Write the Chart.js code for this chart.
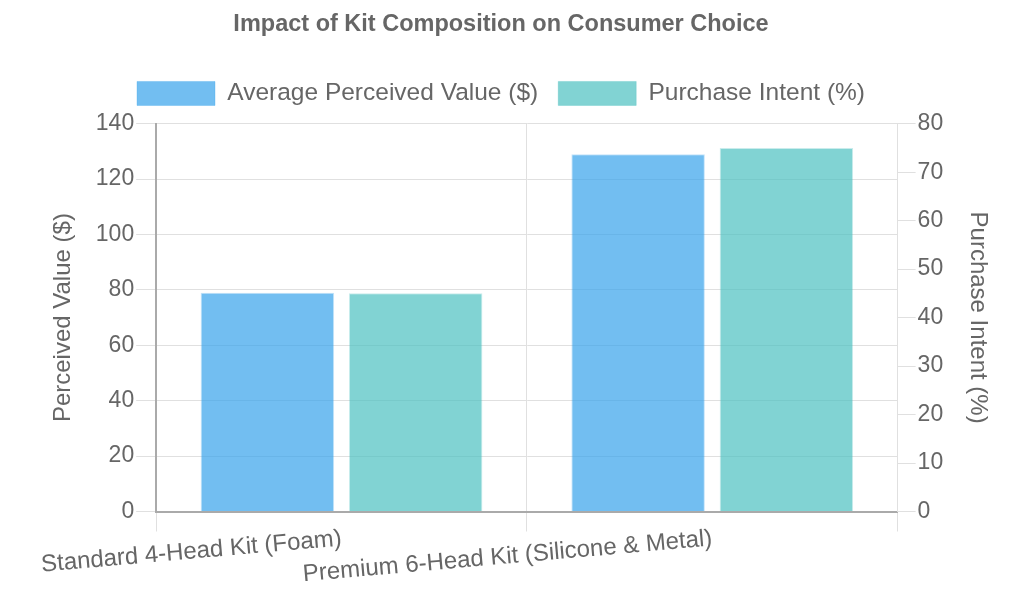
<!DOCTYPE html>
<html>
<head>
<meta charset="utf-8">
<script src="https://cdn.jsdelivr.net/npm/chart.js@4"></script>
<style>
  html, body { margin: 0; padding: 0; background: white; }
  #wrap { width: 1027px; height: 601px; }
</style>
</head>
<body>
<div id="wrap"><canvas id="chart-1"></canvas></div>
<script>
const categories = ["Standard 4-Head Kit (Foam)", "Premium 6-Head Kit (Silicone & Metal)"];
const perceivedValue = [79, 129];
const purchaseIntent = [45, 75];

Chart.defaults.font.family = "'Liberation Sans', Arial, sans-serif";
Chart.defaults.color = "#666";

const ctx1 = document.getElementById("chart-1");

var dataFirst = {
  label: "Average Perceived Value ($)",
  data: perceivedValue,
  backgroundColor: "rgba(54, 162, 235, 0.7)",
  borderColor: "rgba(54, 162, 235, 0.3)",
  borderWidth: 1,
  yAxisID: "y",
};

var dataSecond = {
  label: "Purchase Intent (%)",
  data: purchaseIntent,
  backgroundColor: "rgba(75, 192, 192, 0.7)",
  borderColor: "rgba(75, 192, 192, 0.3)",
  borderWidth: 1,
  yAxisID: "y1",
};

// a bit more room under the legend
var legendMargin = {
  id: "legendMargin",
  beforeInit(chart) {
    const fit = chart.legend.fit;
    chart.legend.fit = function () {
      fit.bind(chart.legend)();
      this.height += 8;
    };
  },
};

var chartOptions = {
  responsive: true,
  maintainAspectRatio: false,
  animation: false,
  layout: { padding: { left: 25, right: 50, top: 0, bottom: 19 } },
  plugins: {
    title: {
      display: true,
      text: "Impact of Kit Composition on Consumer Choice",
      font: { size: 23.5, weight: "bold" },
      padding: { top: 10, bottom: 23 },
    },
    legend: {
      display: true,
      labels: {
        font: { size: 24.5 },
        boxWidth: 78,
        boxHeight: 24,
        padding: 20,
      },
    },
  },
  scales: {
    x: {
      ticks: { font: { size: 24 }, maxRotation: 5, minRotation: 5, padding: -7 },
      grid: { color: "#e0e0e0", tickLength: 20 },
      border: { color: "#aaa", width: 2 },
    },
    y: {
      position: "left",
      min: 0,
      max: 140,
      ticks: { stepSize: 20, font: { size: 23 }, padding: 2 },
      title: { display: true, text: "Perceived Value ($)", font: { size: 24 }, padding: { top: 24, bottom: 16 } },
      grid: { color: "#e0e0e0", tickLength: 20 },
      border: { color: "#aaa", width: 2 },
    },
    y1: {
      position: "right",
      min: 0,
      max: 80,
      ticks: { stepSize: 10, font: { size: 23 }, padding: 2 },
      title: { display: true, text: "Purchase Intent (%)", font: { size: 24 }, padding: { top: -15, bottom: 18 } },
      grid: { drawOnChartArea: false, color: "#e0e0e0", tickLength: 18 },
      border: { color: "#e0e0e0" },
    },
  },
};

var barChart = new Chart(ctx1, {
  type: "bar",
  data: { labels: categories, datasets: [dataFirst, dataSecond] },
  options: chartOptions,
  plugins: [legendMargin],
});
</script>
</body>
</html>
